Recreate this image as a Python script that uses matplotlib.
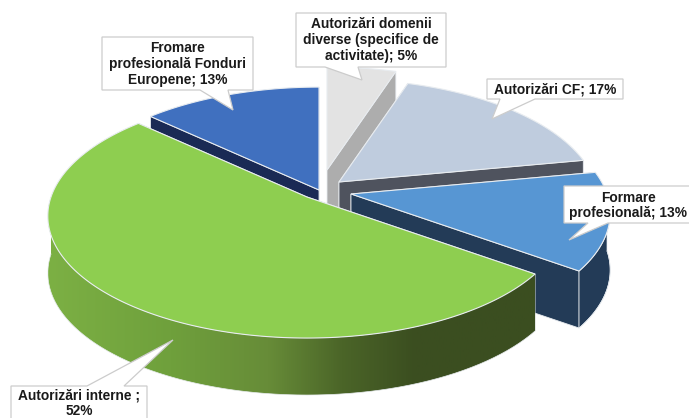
import numpy as np
import matplotlib
matplotlib.use('Agg')
from matplotlib import pyplot as plt
from matplotlib.colors import LinearSegmentedColormap
from matplotlib.patches import Polygon

plt.rcParams['font.family'] = ['Liberation Sans', 'DejaVu Sans']

# slices, clockwise from 12 o'clock
labels = ['Autorizări domenii\ndiverse (specifice de\nactivitate); 5%',
          'Autorizări CF; 17%',
          'Formare\nprofesională; 13%',
          'Autorizări interne ;\n52%',
          'Fromare\nprofesională Fonduri\nEuropene; 13%']
values = [5, 17, 13, 52, 13]

top_colors = ['#E3E3E3', '#BFCCDE', '#5796D3', '#8ECE50', '#4070BF']
wall_colors = ['#ADADAD', '#4F535E', '#233B57', '#3B4E20', '#1A2A55']
centres = [(327, 170), (339, 182), (351, 194), (307, 197), (319, 190)]
draw_order = [4, 0, 1, 2, 3]

RX = 256.0
RY = 119.0
PERSP = 6.4
DEPTH = 57

green_wall = LinearSegmentedColormap.from_list('green_wall', [
    (0.0, '#7CB044'), (0.25, '#6FA03C'), (0.45, '#678C38'),
    (0.6, '#4B6528'), (0.75, '#3B4E20'), (1.0, '#3B4E20')])


def project(centre, ang):
    # ang in degrees clockwise from the top, simple perspective on the disc
    a = np.radians(ang)
    X = np.sin(a)
    Y = np.cos(a)
    s = PERSP / (PERSP + Y)
    return np.column_stack([centre[0] + RX * X * s, centre[1] - RY * Y * s])


fig = plt.figure(figsize=(6.89, 4.18), dpi=100)
ax = fig.add_axes([0, 0, 1, 1])
ax.axis('off')

edges = np.cumsum([0] + values) / sum(values) * 360.0
edge_col = '#E8ECF0'

for i in draw_order:
    c = centres[i]
    z = 1 + draw_order.index(i)
    a0, a1 = edges[i], edges[i + 1]
    angs = np.arange(a0, a1 + 0.25, 0.5)
    angs[-1] = a1
    rim = project(c, angs)
    apex = np.array(c, dtype=float)
    down = np.array([0, DEPTH])

    # flat cut walls
    for a in (a0, a1):
        p = project(c, np.array([a]))[0]
        quad = [apex, p, p + down, apex + down]
        ax.add_patch(Polygon(quad, closed=True, fc=wall_colors[i], ec=edge_col, lw=0.6, zorder=z))

    # outer wall, front half only
    lo = max(a0, 90.0)
    hi = min(a1, 270.0)
    if lo < hi:
        wa = np.arange(lo, hi + 0.5, 1.0)
        wa[-1] = hi
        wr = project(c, wa)
        wall = np.vstack([wr, (wr + down)[::-1]])
        if i == 3:
            patch = Polygon(wall, closed=True, fc='none', ec='none', zorder=z)
            ax.add_patch(patch)
            grad = np.linspace(0, 1, 256).reshape(1, -1)
            im = ax.imshow(grad, cmap=green_wall, extent=(48, 538, 418, 0), aspect='auto', zorder=z)
            im.set_clip_path(patch)
        else:
            ax.add_patch(Polygon(wall, closed=True, fc=wall_colors[i], ec=edge_col, lw=0.5, zorder=z))
        ax.plot(wr[:, 0], wr[:, 1] + DEPTH, color=edge_col, lw=0.5, zorder=z)

    # top face
    face = np.vstack([apex, rim])
    ax.add_patch(Polygon(face, closed=True, fc=top_colors[i], ec=edge_col, lw=0.8, zorder=z + 0.5))

# callouts: box (x0, y0, x1, y1), tail base x left/right, tail tip
boxes = [(296, 13, 446, 67), (487, 79, 623, 99), (564, 186, 700, 223), (11, 386, 147, 430), (102, 37, 253, 90)]
tails = [((325, 358), (362, 80)), ((500, 535), (492, 119)), ((588, 608), (569, 240)), ((87, 124), (173, 340)), ((200, 228), (233, 110))]
text_pos = [(371, 40), (555, 89.5), (628, 205.5), (79, 403), (177.5, 64)]

for i in range(len(labels)):
    x0, y0, x1, y1 = boxes[i]
    (b0, b1), tip = tails[i]
    if tip[1] > y1:
        pts = [(x0, y0), (x1, y0), (x1, y1), (b1, y1), tip, (b0, y1), (x0, y1)]
    else:
        pts = [(x0, y0), (b0, y0), tip, (b1, y0), (x1, y0), (x1, y1), (x0, y1)]
    ax.add_patch(Polygon(pts, closed=True, fc='white', ec='#CCCCCC', lw=0.9, zorder=20))
    ax.text(text_pos[i][0], text_pos[i][1], labels[i], ha='center', va='center', fontsize=9.9,
            fontweight='bold', color='#1A1A1A', linespacing=1.17, zorder=21)

ax.set_xlim(0, 689)
ax.set_ylim(418, 0)
fig.savefig('out.png', dpi=100)
